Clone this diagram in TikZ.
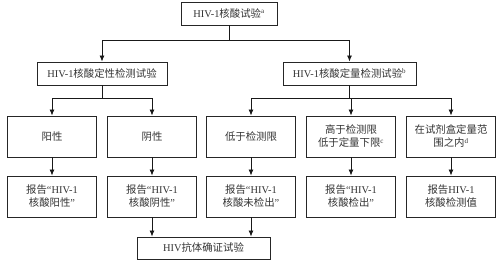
\documentclass[tikz,border=0pt]{standalone}
\usepackage{fontspec}
\setmainfont{Liberation Serif}
\newfontfamily\cjk{Noto Sans CJK SC}
\newcommand{\zh}[1]{{\cjk #1}}
\usetikzlibrary{arrows.meta,positioning}

\begin{document}
\begin{tikzpicture}[
x=1pt, y=-1pt,
font=\fontsize{10.4}{13}\selectfont,
block/.style={draw=black!85, line width=0.9pt, inner sep=0pt, align=center, text=black!80},
small/.style={block, minimum height=23pt},
tall/.style={block, minimum width=89pt, minimum height=41pt},
arrow/.style={-{Latex[length=6pt, width=5pt]}, line width=0.8pt, draw=black!90},
line/.style={line width=0.8pt, draw=black!90}
]
\useasboundingbox (0,0) rectangle (500,266);
% top
\node[small, minimum width=96pt] (nat) at (229,13.5) {HIV-1\zh{核酸试验}\textsuperscript{\scriptsize a}};
% second row
\node[small, minimum width=130pt] (qual) at (102,73.5) {HIV-1\zh{核酸定性检测试验}};
\node[small, minimum width=133pt] (quant) at (349.5,73.5) {HIV-1\zh{核酸定量检测试验}\textsuperscript{\scriptsize b}};
% results
\node[tall] (pos) at (52,136.5) {\zh{阳性}};
\node[tall] (neg) at (152,136.5) {\zh{阴性}};
\node[tall] (low) at (251,136.5) {\zh{低于检测限}};
\node[tall] (mid) at (351,136.5) {\zh{高于检测限}\\\zh{低于定量下限}\textsuperscript{\scriptsize c}};
\node[tall] (rng) at (451,136.5) {\zh{在试剂盒定量范}\\\zh{围之内}\textsuperscript{\scriptsize d}};
% reports
\node[tall] (rpos) at (52,196.5) {\zh{报告}“HIV-1\\\zh{核酸阳性}”};
\node[tall] (rneg) at (152,196.5) {\zh{报告}“HIV-1\\\zh{核酸阴性}”};
\node[tall] (rlow) at (251,196.5) {\zh{报告}“HIV-1\\\zh{核酸未检出}”};
\node[tall] (rmid) at (351,196.5) {\zh{报告}“HIV-1\\\zh{核酸检出}”};
\node[tall] (rrng) at (451,196.5) {\zh{报告}HIV-1\\\zh{核酸检测值}};
% confirmation
\node[block, minimum width=133pt, minimum height=22pt] (conf) at (203.5,248) {HIV\zh{抗体确证试验}};
% junctions
\coordinate (j0) at (nat |- 0,40);
\coordinate (j1) at (qual |- 0,98);
\coordinate (j2) at (quant |- 0,98);
\draw[line] (nat) -- (j0);
\draw[arrow] (j0) -| (qual);
\draw[arrow] (j0) -| (quant);
\draw[line] (qual) -- (j1);
\draw[arrow] (j1) -| (pos);
\draw[arrow] (j1) -| (neg);
\draw[line] (quant) -- (j2);
\draw[arrow] (j2) -| (low);
\draw[arrow] (j2) -| (mid);
\draw[arrow] (j2) -| (rng);
\draw[arrow] (pos) -- (rpos);
\draw[arrow] (neg) -- (rneg);
\draw[arrow] (low) -- (rlow);
\draw[arrow] (mid) -- (rmid);
\draw[arrow] (rng) -- (rrng);
\draw[arrow] (rneg) -- (rneg |- conf.north);
\draw[arrow] (rlow) -- (rlow |- conf.north);
\end{tikzpicture}
\end{document}
